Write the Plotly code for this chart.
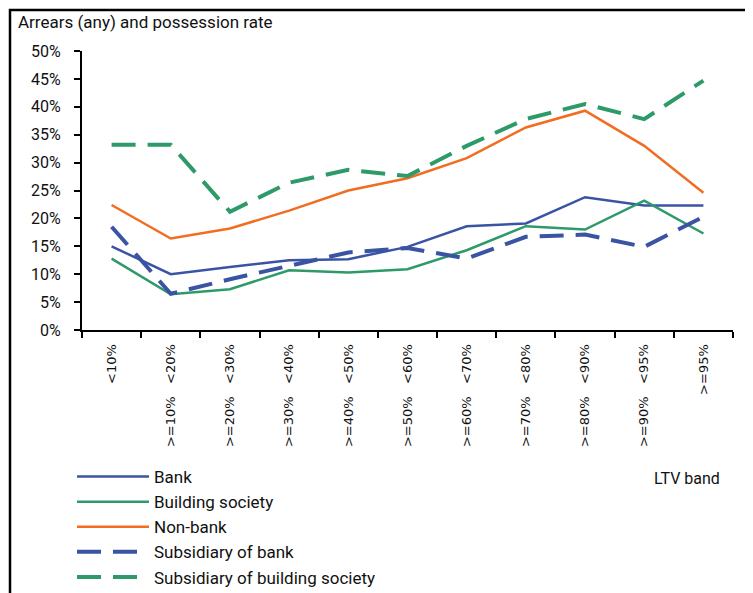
import plotly.graph_objects as go

categories = ["<10%", ">=10%\u00a0\u00a0\u00a0<20%", ">=20%\u00a0\u00a0\u00a0<30%", ">=30%\u00a0\u00a0\u00a0<40%",
              ">=40%\u00a0\u00a0\u00a0<50%", ">=50%\u00a0\u00a0\u00a0<60%", ">=60%\u00a0\u00a0\u00a0<70%",
              ">=70%\u00a0\u00a0\u00a0<80%", ">=80%\u00a0\u00a0\u00a0<90%", ">=90%\u00a0\u00a0\u00a0<95%", ">=95%"]
bank = [15.0, 10.0, 11.3, 12.5, 12.7, 14.9, 18.6, 19.1, 23.8, 22.3, 22.3]
building_society = [12.8, 6.4, 7.3, 10.7, 10.3, 10.9, 14.3, 18.6, 18.0, 23.2, 17.3]
non_bank = [22.4, 16.4, 18.2, 21.4, 25.0, 27.2, 30.8, 36.3, 39.3, 33.0, 24.6]
subsidiary_of_bank = [18.5, 6.5, 9.1, 11.5, 13.9, 14.7, 12.8, 16.7, 17.1, 14.9, 20.3]
subsidiary_of_bs = [33.2, 33.2, 21.2, 26.4, 28.7, 27.6, 33.0, 37.8, 40.5, 37.8, 44.7]

BLUE = "#3A54A4"
GREEN = "#2E9A69"
ORANGE = "#F26C21"
FONT = "Roboto, sans-serif"

series = [
    ("Bank", bank, BLUE, "solid", 2.5),
    ("Building society", building_society, GREEN, "solid", 2.5),
    ("Non-bank", non_bank, ORANGE, "solid", 2.5),
    ("Subsidiary of bank", subsidiary_of_bank, BLUE, "24px,12px", 4),
    ("Subsidiary of building society", subsidiary_of_bs, GREEN, "24px,12px", 4),
]

fig = go.Figure()
for name, vals, color, dash, width in series:
    fig.add_trace(go.Scatter(
        x=categories, y=[v / 100 for v in vals], name=name, mode="lines",
        line=dict(color=color, dash=dash, width=width),
    ))

# page body has an 8px default margin
OFF = 8
W, H = 753 - OFF, 593 - OFF
PX0, PX1, PY0, PY1 = 82, 733, 51, 330  # plot area in page pixels
L, R, T, B = PX0 - OFF, W - (PX1 - OFF), PY0 - OFF, H - (PY1 - OFF)
pw, ph = W - L - R, H - T - B

def px(x):
    return (x - OFF - L) / pw

def py(y):
    return (H - B - (y - OFF)) / ph

fig.update_layout(
    width=W, height=H,
    margin=dict(l=L, r=R, t=T, b=B, autoexpand=False),
    paper_bgcolor="white", plot_bgcolor="white",
    font=dict(family=FONT, size=16, color="#111111"),
    showlegend=True,
    legend=dict(x=px(72), y=py(459), xanchor="left", yanchor="top",
                font=dict(family=FONT, size=17), bgcolor="rgba(0,0,0,0)",
                tracegroupgap=0, itemwidth=72),
    xaxis=dict(type="category", range=[-0.5, 10.5], showline=True, linecolor="black",
               linewidth=2, ticks="outside", ticklen=6, tickwidth=2, tickcolor="black",
               tickson="boundaries", tickangle=-90, showgrid=False, zeroline=False,
               tickfont=dict(family="DejaVu Sans", size=13, color="#111111"),
               ticklabelstandoff=7),
    yaxis=dict(range=[0, 0.5], dtick=0.05, tickformat=".0%", showline=True,
               linecolor="black", linewidth=2, ticks="outside", ticklen=6,
               tickwidth=2, tickcolor="black", showgrid=False, zeroline=False,
               tickfont=dict(family=FONT, size=16, color="#111111"),
               ticklabelstandoff=10),
    shapes=[dict(type="rect", xref="paper", yref="paper",
                 x0=px(10), x1=px(748), y0=py(620), y1=py(10),
                 line=dict(color="black", width=2.5), fillcolor="rgba(0,0,0,0)",
                 layer="below")],
    annotations=[
        dict(text="Arrears (any) and possession rate", xref="paper", yref="paper",
             x=px(16), y=py(22), xanchor="left", yanchor="middle", showarrow=False,
             font=dict(family=FONT, size=17, color="#111111")),
        dict(text="LTV band", xref="paper", yref="paper",
             x=px(722), y=py(478), xanchor="right", yanchor="middle", showarrow=False,
             font=dict(family=FONT, size=16, color="#111111")),
    ],
)

fig.write_html("out.html")
